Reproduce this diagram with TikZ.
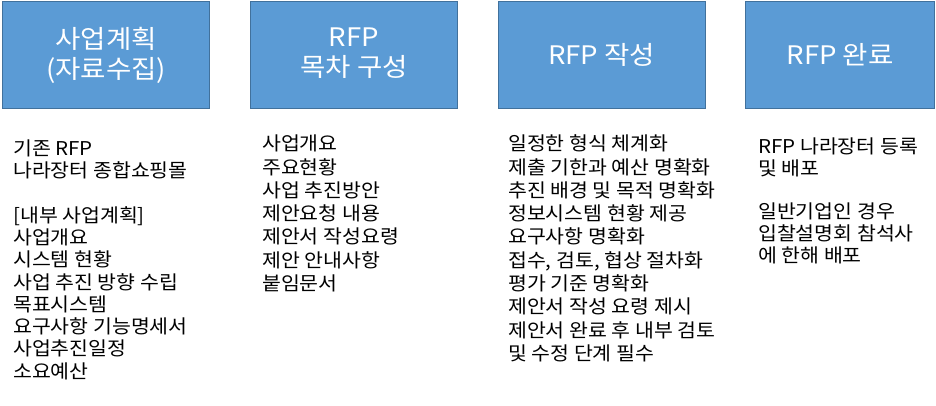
\documentclass[tikz,border=0pt]{standalone}
\usepackage{fontspec}
\setmainfont[FakeStretch=1.08]{Noto Sans CJK KR}
\definecolor{boxfill}{HTML}{5B9BD5}
\definecolor{boxline}{HTML}{41719C}
\begin{document}
\begin{tikzpicture}[x=1pt,y=-1pt,
  hbox/.style={draw=boxline, fill=boxfill, line width=1pt, minimum width=207pt,
    minimum height=107pt, anchor=north west, inner sep=0pt, text=white,
    font=\fontsize{25.5}{30}\selectfont, align=center},
  body/.style={anchor=north west, inner sep=0pt, align=left, text=black}]
\useasboundingbox (0,0) rectangle (936,406);
\node[hbox] (h1) at (2,1) {사업계획\\(자료수집)\rule[-5pt]{0pt}{0pt}};
\node[hbox] (h2) at (250,1) {RFP\\목차 구성\rule[-5pt]{0pt}{0pt}};
\node[hbox] (h3) at (497.5,1) {RFP 작성\rule[-2pt]{0pt}{0pt}};
\node[hbox, minimum width=189pt] (h4) at (745,1) {RFP 완료\rule[-2pt]{0pt}{0pt}};

\node[body, font=\fontsize{19}{22.3}\selectfont] (t1) at (13,137)
  {\rule{0pt}{18pt}기존 RFP\\나라장터 종합쇼핑몰\\[22.3pt][내부 사업계획]\\사업개요\\시스템 현황\\사업 추진 방향 수립\\목표시스템\\요구사항 기능명세서\\사업추진일정\\소요예산};
\node[body, font=\fontsize{19}{23.3}\selectfont] (t2) at (262,132.5)
  {\rule{0pt}{18pt}사업개요\\주요현황\\사업 추진방안\\제안요청 내용\\제안서 작성요령\\제안 안내사항\\붙임문서};
\node[body, font=\fontsize{19}{23.3}\selectfont] (t3) at (508,132.5)
  {\rule{0pt}{18pt}일정한 형식 체계화\\제출 기한과 예산 명확화\\추진 배경 및 목적 명확화\\정보시스템 현황 제공\\요구사항 명확화\\접수, 검토, 협상 절차화\\평가 기준 명확화\\제안서 작성 요령 제시\\제안서 완료 후 내부 검토\\및 수정 단계 필수};
\node[body, font=\fontsize{19}{21.9}\selectfont] (t4) at (758,135)
  {\rule{0pt}{18pt}RFP 나라장터 등록\\및 배포\\[21.9pt]일반기업인 경우\\입찰설명회 참석사\\에 한해 배포};
\end{tikzpicture}
\end{document}
